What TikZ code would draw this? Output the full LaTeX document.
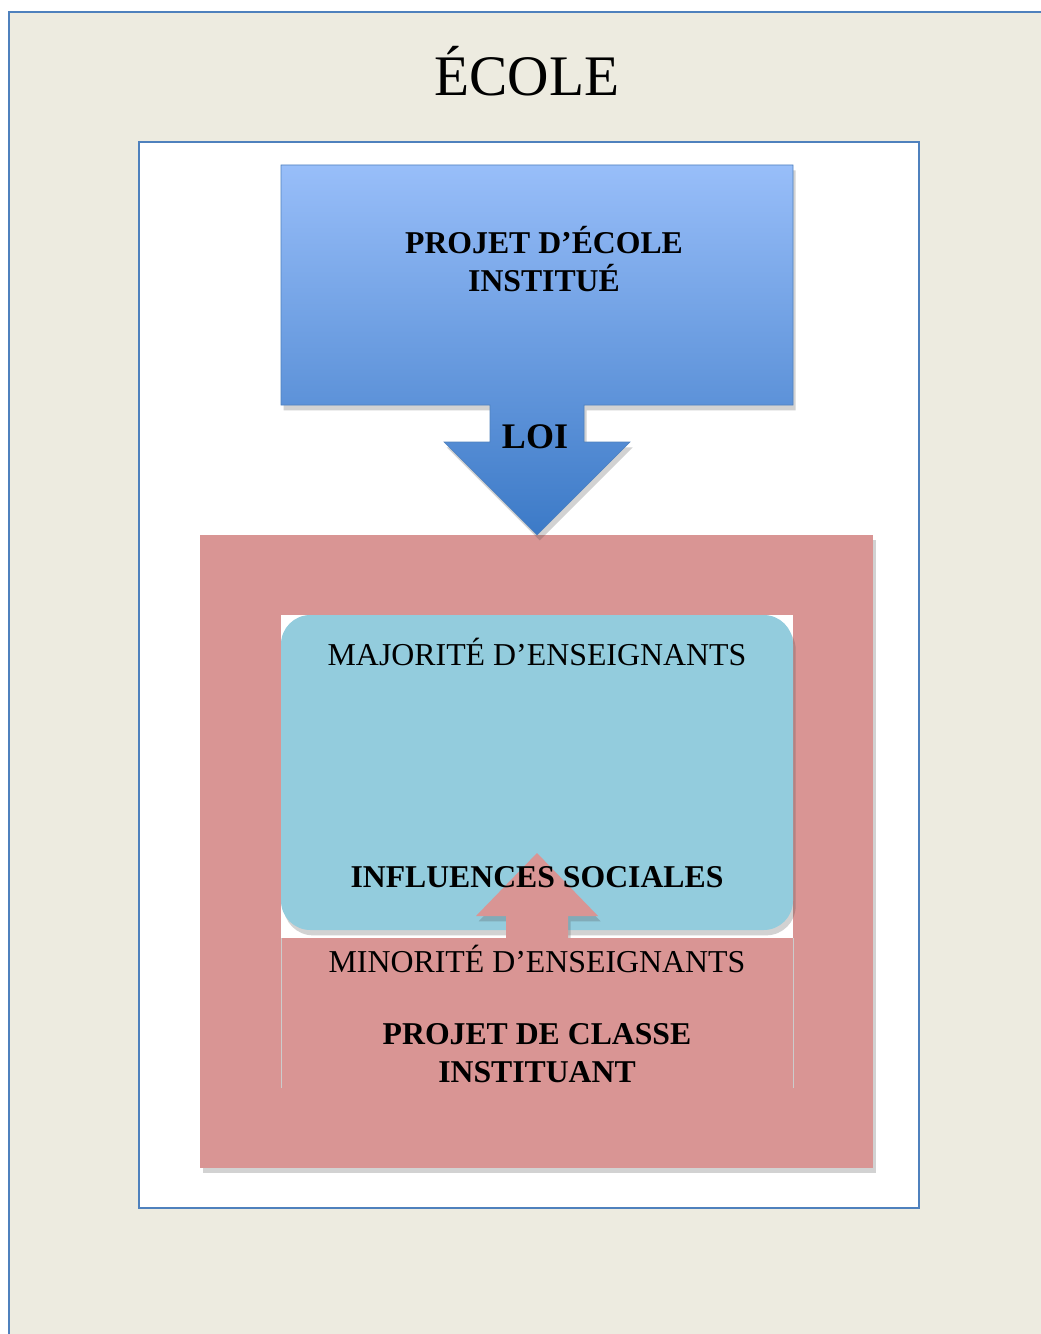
\documentclass[tikz,border=0pt]{standalone}
\usepackage{fontspec}
\setmainfont{Liberation Serif}
\usetikzlibrary{shadows}

\definecolor{beige}{RGB}{237,235,224}
\definecolor{frameblue}{RGB}{79,129,189}
\definecolor{topblue}{RGB}{152,190,249}
\definecolor{lowblue}{RGB}{60,122,199}
\definecolor{rose}{RGB}{217,149,148}
\definecolor{ciel}{RGB}{147,204,221}

\tikzset{
  plaintext/.style={font=\fontsize{23.9}{28.5}\selectfont, align=center, inner sep=0pt, anchor=base},
  boldtext/.style={plaintext, font=\fontsize{23.8}{28.5}\selectfont\bfseries},
  softshadow/.style={drop shadow={shadow xshift=2pt, shadow yshift=-4pt, opacity=0.25, fill=black!70}},
}

\begin{document}
\begin{tikzpicture}[x=0.75pt,y=-0.75pt]
  \useasboundingbox (0,0) rectangle (1040,1334);
  \fill[white] (0,0) rectangle (1040,1334);
  \draw[frameblue, line width=1.2pt, fill=beige] (9,12) rectangle (1060,1350);
  \node[anchor=base, inner sep=0pt, font=\fontsize{43}{50}\selectfont] (ecole) at (527,96) {ÉCOLE};

  \draw[frameblue, line width=1.2pt, fill=white] (139,142) rectangle (919,1208);

  \fill[rose, softshadow] (200,535) rectangle (873,1168);
  \fill[white] (281,615) rectangle (793,938);
  \fill[ciel, rounded corners=22pt, softshadow] (281,615) rectangle (793,930);
  \fill[rose, softshadow] (506,942) -- (506,916) -- (476,916) -- (537,853)
    -- (598,916) -- (568,916) -- (568,942) -- cycle;
  \fill[rose] (281,938) rectangle (793,1088);
  \draw[black!20] (281,938) -- (281,1088) (793,938) -- (793,1088);

  \shade[top color=topblue, bottom color=lowblue, draw=frameblue, softshadow]
    (281,165) -- (793,165) -- (793,405) -- (584,405) -- (584,442) -- (630,442)
    -- (537,535) -- (444,442) -- (490,442) -- (490,405) -- (281,405) -- cycle;

  \node[boldtext] (projet) at (544,291) {PROJET D’ÉCOLE\\INSTITUÉ};
  \node[boldtext, font=\fontsize{27}{32}\selectfont\bfseries] (loi) at (535,448) {LOI};
  \node[plaintext] (majorite) at (537,665) {MAJORITÉ D’ENSEIGNANTS};
  \node[boldtext] (influences) at (537,887) {INFLUENCES SOCIALES};
  \node[plaintext] (minorite) at (537,972) {MINORITÉ D’ENSEIGNANTS};
  \node[boldtext] (classe) at (537,1082) {PROJET DE CLASSE\\INSTITUANT};
\end{tikzpicture}
\end{document}
